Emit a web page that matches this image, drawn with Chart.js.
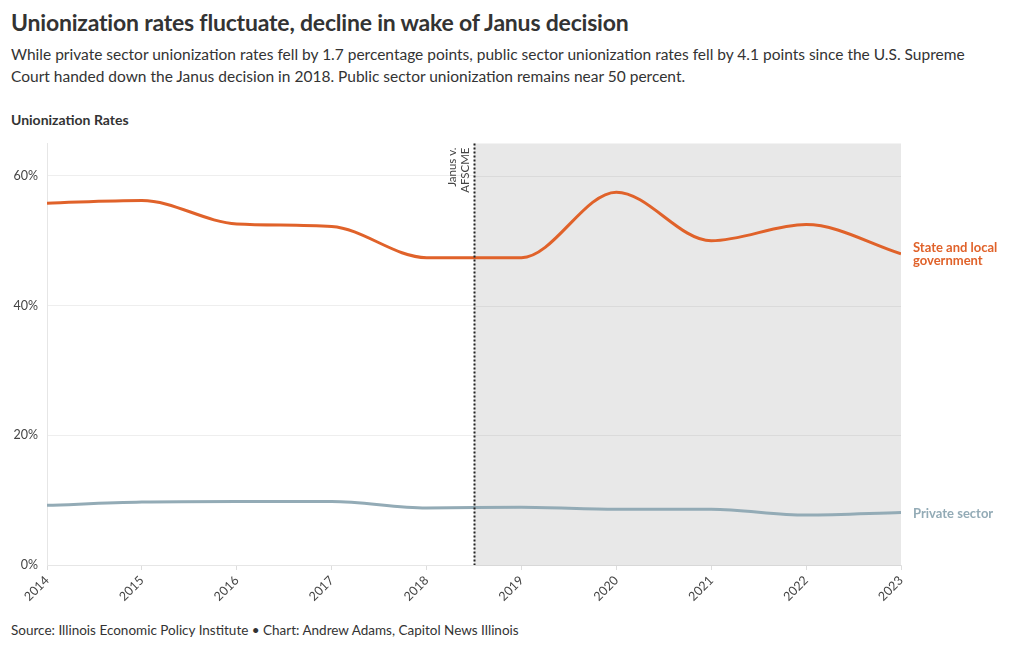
<!DOCTYPE html>
<html>
<head>
<meta charset="utf-8">
<script src="https://cdn.jsdelivr.net/npm/chart.js@4.4.1/dist/chart.umd.min.js"></script>
<style>
  body { margin: 0; background: #fff; font-family: Lato, sans-serif; color: #333; }
  .wrap { position: relative; width: 1020px; height: 650px; }
  h1 { position: absolute; left: 11px; top: 8px; margin: 0; font-size: 23px; font-weight: 700; color: #333; letter-spacing: -0.2px; }
  .sub { position: absolute; left: 11px; top: 43px; margin: 0; font-size: 15.5px; line-height: 22px; color: #333; }
  .label { position: absolute; left: 11px; top: 111px; font-size: 14px; font-weight: 700; color: #333; }
  .src { position: absolute; left: 11px; top: 622px; font-size: 13.5px; color: #333; }
  #chart-box { position: absolute; left: 0; top: 127px; width: 1020px; height: 488px; }
</style>
</head>
<body>
<div class="wrap">
  <h1>Unionization rates fluctuate, decline in wake of Janus decision</h1>
  <p class="sub">While private sector unionization rates fell by 1.7 percentage points, public sector unionization rates fell by 4.1 points since the U.S. Supreme<br>Court handed down the Janus decision in 2018. Public sector unionization remains near 50 percent.</p>
  <div class="label">Unionization Rates</div>
  <div id="chart-box"><canvas id="chart"></canvas></div>
  <div class="src">Source: Illinois Economic Policy Institute • Chart: Andrew Adams, Capitol News Illinois</div>
</div>
<script>
// データ
const years = [2014, 2015, 2016, 2017, 2018, 2019, 2020, 2021, 2022, 2023];
const stateLocal = [55.8, 56.2, 52.6, 52.2, 47.4, 47.4, 57.5, 50.0, 52.5, 48.0];
const privateSector = [9.2, 9.7, 9.8, 9.8, 8.8, 8.9, 8.6, 8.6, 7.7, 8.1];
const yTicks = [0, 20, 40, 60];
const janusYear = 2018.5;
const janusLabel = ['Janus v.', 'AFSCME'];

const orange = '#e0622a';
const slate = '#93abb6';

// 背景の網掛けと縦線、右端のラベル
const annotate = {
    id: 'annotate',
    beforeDatasetsDraw(chart) {
        const { ctx, chartArea, scales } = chart;
        const x0 = scales.x.getPixelForValue(janusYear);
        const x1 = scales.x.getPixelForValue(years[years.length - 1]);
        ctx.save();
        ctx.fillStyle = '#e8e8e8';
        ctx.fillRect(x0, chartArea.top, x1 - x0, chartArea.bottom - chartArea.top);
        // 網掛けの上にグリッド線を引き直す
        ctx.strokeStyle = 'rgba(0,0,0,0.06)';
        ctx.lineWidth = 1;
        yTicks.forEach(v => {
            const y = Math.round(scales.y.getPixelForValue(v)) + 0.5;
            ctx.beginPath();
            ctx.moveTo(x0, y);
            ctx.lineTo(x1, y);
            ctx.stroke();
        });
        ctx.restore();
    },
    afterDatasetsDraw(chart) {
        const { ctx, chartArea, scales } = chart;
        const x0 = Math.round(scales.x.getPixelForValue(janusYear)) + 0.5;
        ctx.save();
        ctx.strokeStyle = '#222';
        ctx.lineWidth = 2;
        ctx.setLineDash([2, 2]);
        ctx.beginPath();
        ctx.moveTo(x0, chartArea.top);
        ctx.lineTo(x0, chartArea.bottom);
        ctx.stroke();
        ctx.setLineDash([]);

        // Janus ラベル（縦書き）
        ctx.translate(x0, chartArea.top + 4);
        ctx.rotate(-Math.PI / 2);
        ctx.fillStyle = '#444';
        ctx.font = '11.5px Lato, sans-serif';
        ctx.textAlign = 'right';
        ctx.textBaseline = 'middle';
        ctx.fillText(janusLabel[0], 0, -22);
        ctx.fillText(janusLabel[1], 0, -9);
        ctx.restore();

        // 系列ラベル
        const xr = chartArea.right + 12;
        ctx.save();
        ctx.font = 'bold 13px Lato, sans-serif';
        ctx.textAlign = 'left';
        ctx.textBaseline = 'middle';
        const yS = scales.y.getPixelForValue(stateLocal[stateLocal.length - 1]);
        ctx.fillStyle = orange;
        ctx.fillText('State and local', xr, yS - 6);
        ctx.fillText('government', xr, yS + 7);
        const yP = scales.y.getPixelForValue(privateSector[privateSector.length - 1]);
        ctx.fillStyle = slate;
        ctx.fillText('Private sector', xr, yP + 1);
        ctx.restore();
    }
};

const ctx = document.getElementById('chart').getContext('2d');
new Chart(ctx, {
    type: 'line',
    data: {
        datasets: [
            {
                label: 'State and local government',
                data: years.map((y, i) => ({ x: y, y: stateLocal[i] })),
                borderColor: orange,
                borderWidth: 3,
                pointRadius: 0,
                cubicInterpolationMode: 'monotone'
            },
            {
                label: 'Private sector',
                data: years.map((y, i) => ({ x: y, y: privateSector[i] })),
                borderColor: slate,
                borderWidth: 3,
                pointRadius: 0,
                cubicInterpolationMode: 'monotone'
            }
        ]
    },
    options: {
        responsive: true,
        maintainAspectRatio: false,
        animation: false,
        layout: { padding: { top: 0, right: 119, left: 0, bottom: 0 } },
        plugins: { legend: { display: false }, tooltip: { enabled: false } },
        scales: {
            x: {
                type: 'linear',
                min: years[0],
                max: years[years.length - 1],
                afterBuildTicks: axis => { axis.ticks = years.map(v => ({ value: v })); },
                afterFit: axis => { axis.height = 50; },
                grid: { drawOnChartArea: false, color: '#ddd', tickLength: 5 },
                border: { color: '#e6e6e6' },
                ticks: {
                    minRotation: 45,
                    maxRotation: 45,
                    color: '#444',
                    font: { family: 'Lato', size: 12.5 },
                    callback: v => String(v)
                }
            },
            y: {
                min: 0,
                max: 65,
                afterBuildTicks: axis => { axis.ticks = yTicks.map(v => ({ value: v })); },
                afterFit: axis => { axis.width = 47; },
                grid: { color: '#eeeeee', drawTicks: false },
                border: { display: true, color: '#e6e6e6' },
                ticks: {
                    padding: 9,
                    color: '#444',
                    font: { family: 'Lato', size: 12.5 },
                    callback: v => v + '%'
                }
            }
        }
    },
    plugins: [annotate]
});
</script>
</body>
</html>
